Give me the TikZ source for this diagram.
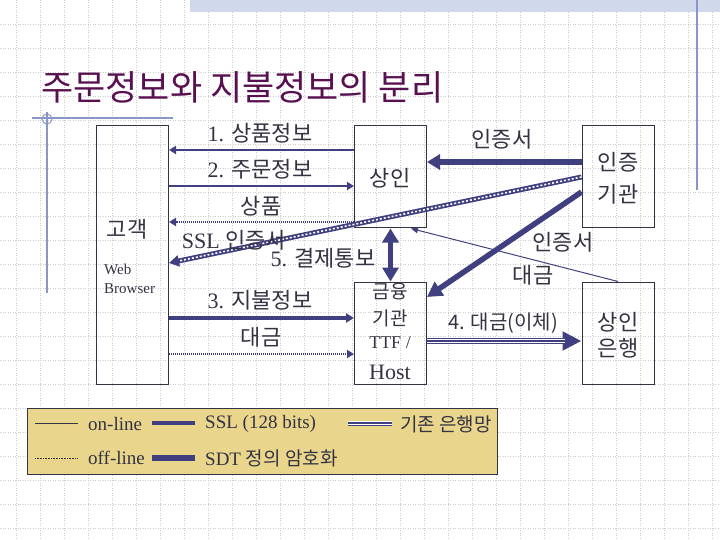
\documentclass[tikz,border=0pt]{standalone}
\usepackage{fontspec}
\setmainfont{Liberation Serif}
\newfontfamily\kr{Noto Sans CJK KR}
\usetikzlibrary{arrows.meta}

\definecolor{navy}{RGB}{64,64,128}
\definecolor{ink}{RGB}{51,51,68}
\definecolor{titlepurple}{RGB}{88,16,80}
\definecolor{khaki}{RGB}{233,213,139}
\definecolor{deco}{RGB}{136,150,200}
\definecolor{band}{RGB}{208,216,236}

\begin{document}
\begin{tikzpicture}[x=1pt, y=-1pt, >=stealth,
		gridline/.style={draw=black!20, line width=0.6pt, dash pattern=on 1pt off 1.5pt},
		box/.style={draw=ink, line width=1pt, minimum width=72pt, minimum height=102pt, inner sep=0pt},
		lbl/.style={text=ink, font=\fontsize{22}{24}\selectfont, inner sep=0pt},
		keytext/.style={text=ink, font=\fontsize{19}{22}\selectfont, inner sep=0pt, anchor=west},
		online/.style={draw=navy, line width=2pt},
		offline/.style={draw=navy, line width=2pt, dash pattern=on 1pt off 1pt},
		ssl/.style={draw=navy, line width=4pt},
		sdt/.style={draw=navy, line width=5.5pt},
		hatch/.style={draw=navy, line width=5pt, postaction={draw=white, -, line width=1.6pt, dash pattern=on 2pt off 2pt, shorten >=#1}},
		hatch/.default=0pt,
		bankline/.style={draw=navy, line width=6pt, postaction={draw=white, -, line width=3.6pt, shorten >=#1}, postaction={draw=navy, -, line width=1.2pt, shorten >=#1}},
		bankline/.default=0pt,
		small tip/.style={-{Triangle[length=7pt,width=8pt]}},
		big tip/.style={-{Triangle[length=14pt,width=16pt]}}]
		
		\useasboundingbox (0,0) rectangle (720,540);
		
		% background
		\foreach \gx in {16,40,...,712}
		\draw [gridline] (\gx,0) -- (\gx,540);
		\foreach \gy in {24,48,...,528}
		\draw [gridline] (0,\gy) -- (720,\gy);
		\fill [band] (190,0) rectangle (720,12);
		\draw [deco, line width=1.5pt] (697,0) -- (697,190);
		\draw [deco, line width=1.2pt] (32,118) -- (173,118);
		\draw [deco, line width=1.2pt] (47,112) -- (47,293);
		\draw [deco, line width=1pt] (47,119) circle (5);
		
		\node [anchor=west, text=titlepurple, font=\kr\fontsize{35}{40}\selectfont, inner sep=0pt] (title) at (41,87) {주문정보와 지불정보의 분리};
		
		% boxes
		\node [box, minimum height=258pt] (cust) at (132.5,255) {};
		\node [box] (merch) at (390.5,177) {};
		\node [box] (ca) at (618,177) {};
		\node [box] (fin) at (390.5,333) {};
		\node [box] (mbank) at (618,333) {};
		
		\node [lbl, font=\kr\fontsize{22}{24}\selectfont] (t-cust) at (127,229) {고객};
		\node [lbl, font=\fontsize{15}{19}\selectfont, align=left, anchor=west] (t-web) at (104,279) {Web\\Browser};
		\node [lbl, font=\kr\fontsize{22}{24}\selectfont] (t-merch) at (390,178) {상인};
		\node [lbl, font=\kr\fontsize{22}{24}\selectfont] (t-ca1) at (618,162) {인증};
		\node [lbl, font=\kr\fontsize{22}{24}\selectfont] (t-ca2) at (618,194) {기관};
		\node [lbl, font=\kr\fontsize{19}{22}\selectfont] (t-fin1) at (390,292) {금융};
		\node [lbl, font=\kr\fontsize{19}{22}\selectfont] (t-fin2) at (390,318) {기관};
		\node [lbl, font=\fontsize{18}{20}\selectfont] (t-fin3) at (390,343) {TTF /};
		\node [lbl] (t-fin4) at (390,372) {Host};
		\node [lbl, font=\kr\fontsize{22}{24}\selectfont] (t-mb1) at (618,322) {상인};
		\node [lbl, font=\kr\fontsize{22}{24}\selectfont] (t-mb2) at (618,348) {은행};
		
		% rows for the connectors
		\foreach \n/\yy in {r1/150, r2/186, r3/222, r4/318, r5/354, r6/341, r7/263, r8/162, r9/192, r10/297}
		\coordinate (\n) at (0,\yy);
		
		\draw [online, small tip] (merch.west |- r1) -- (cust.east |- r1);
		\draw [online, small tip] (cust.east |- r2) -- (merch.west |- r2);
		\draw [offline, small tip] (merch.west |- r3) -- (cust.east |- r3);
		\draw [ssl, -{Triangle[length=8pt,width=9pt]}] (cust.east |- r4) -- (fin.west |- r4);
		\draw [offline, small tip] (cust.east |- r5) -- (fin.west |- r5);
		\draw [hatch=10pt, -{Triangle[length=10pt,width=11pt]}] (ca.west) -- (cust.east |- r7);
		\draw [sdt, -{Triangle[length=13pt,width=15pt]}] (ca.west |- r8) -- (merch.east |- r8);
		\draw [sdt, -{Triangle[length=15pt,width=16pt]}] (ca.west |- r9) -- (fin.east |- r10);
		\draw [navy, line width=1pt, -{Triangle[length=7pt,width=6pt]}] (mbank.north) -- ([xshift=-16pt]merch.south east);
		\draw [sdt, {Triangle[length=14pt,width=16pt]}-{Triangle[length=14pt,width=16pt]}] (merch.south) -- (fin.north);
		\draw [bankline=17pt, -{Triangle[length=19pt,width=18pt]}] (fin.east |- r6) -- (mbank.west |- r6);
		
		% connector labels
		\node [lbl] (l-info) at (260,133) {1. {\kr 상품정보}};
		\node [lbl] (l-order) at (260,169) {2. {\kr 주문정보}};
		\node [lbl, font=\kr\fontsize{22}{24}\selectfont] (l-goods) at (261,206) {상품};
		\node [lbl] (l-sslcert) at (234,240) {SSL {\kr 인증서}};
		\node [lbl] (l-notify) at (323,258) {5. {\kr 결제통보}};
		\node [lbl] (l-pay) at (260,300) {3. {\kr 지불정보}};
		\node [lbl, font=\kr\fontsize{22}{24}\selectfont] (l-money) at (261,337) {대금};
		\node [lbl, font=\kr\fontsize{22}{24}\selectfont] (l-cert) at (502,139) {인증서};
		\node [lbl, font=\kr\fontsize{22}{24}\selectfont] (l-cert2) at (563,242) {인증서};
		\node [lbl, font=\kr\fontsize{22}{24}\selectfont] (l-money2) at (533,275) {대금};
		\node [lbl, font=\kr\fontsize{20}{24}\selectfont] (l-transfer) at (503,323) {4. 대금(이체)};
		
		% legend
		\node [draw=ink, fill=khaki, line width=1pt, minimum width=470pt, minimum height=66pt, inner sep=0pt] (legend) at (262,441) {};
		\draw [ink, line width=1pt] (35,423) -- (78,423);
		\draw [ink, line width=1pt, dash pattern=on 0.8pt off 0.8pt] (35,458) -- (78,458);
		\draw [ssl] (152,423) -- (195,423);
		\draw [sdt] (152,458) -- (195,458);
		\draw [bankline, line width=5pt] (348,423) -- (392,423);
		\node [keytext] (k-on) at (88,424) {on-line};
		\node [keytext] (k-off) at (88,458) {off-line};
		\node [keytext] (k-ssl) at (205,424) {SSL (128 bits)};
		\node [keytext] (k-sdt) at (205,458) {SDT {\kr 정의 암호화}};
		\node [keytext, font=\kr\fontsize{19}{22}\selectfont] (k-bank) at (400,424) {기존 은행망};
		
		\end{tikzpicture}
\end{document}
